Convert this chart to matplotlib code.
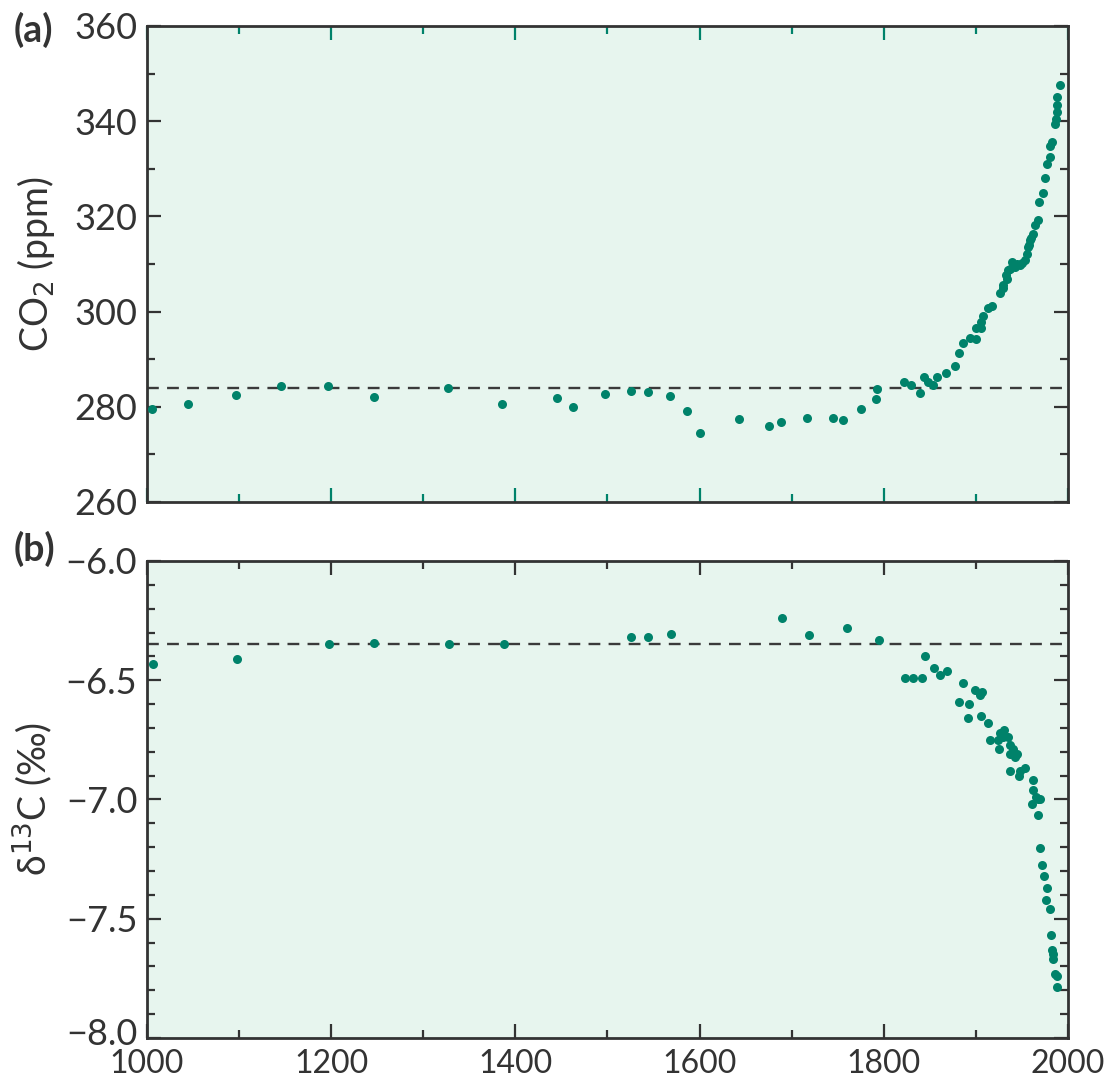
import matplotlib
matplotlib.use("Agg")
import matplotlib.pyplot as plt
import matplotlib.transforms as mtransforms
from matplotlib.ticker import MultipleLocator

plt.rcParams['font.family'] = ['Lato', 'DejaVu Sans']

# panel (a): CO2 from ice cores / atmosphere
co2_years = [1005, 1045, 1097, 1145, 1197, 1246, 1327, 1386, 1445, 1463,
             1497, 1525, 1544, 1568, 1586, 1600, 1643, 1675, 1688, 1717,
             1745, 1756, 1775, 1792, 1793, 1822, 1830, 1839, 1844, 1848,
             1853, 1858, 1868, 1877, 1882, 1886, 1894, 1900, 1900, 1906,
             1906, 1908, 1913, 1917, 1926, 1929, 1929, 1933, 1934, 1935,
             1937, 1939, 1942, 1945, 1948, 1950, 1953, 1955, 1957, 1958,
             1959, 1960, 1962, 1964, 1967, 1969, 1973, 1975, 1977, 1980,
             1981, 1983, 1986, 1987, 1988, 1988, 1988, 1991]
co2_ppm = [279.5, 280.5, 282.4, 284.3, 284.3, 282.0, 283.9, 280.5, 281.9, 280.0,
           282.7, 283.4, 283.2, 282.3, 279.1, 274.5, 277.4, 275.9, 276.7, 277.6,
           277.6, 277.3, 279.5, 281.6, 283.7, 285.2, 284.6, 282.8, 286.2, 285.3,
           284.6, 286.2, 287.2, 288.6, 291.4, 293.5, 294.4, 294.2, 296.5, 296.5,
           297.9, 299.1, 300.7, 301.2, 304.0, 304.9, 305.5, 307.7, 306.8, 308.7,
           309.0, 310.5, 309.4, 310.0, 309.7, 310.2, 310.8, 312.2, 313.6, 314.0,
           315.0, 315.5, 316.4, 318.2, 319.2, 323.1, 324.9, 328.0, 331.1, 332.5,
           334.8, 335.7, 339.5, 340.5, 342.0, 343.4, 345.1, 347.6]

# panel (b): delta 13C
d13c_years = [1006, 1098, 1198, 1246, 1328, 1388, 1526, 1544, 1569, 1690,
              1719, 1760, 1795, 1823, 1832, 1841, 1845, 1854, 1861, 1869,
              1882, 1886, 1891, 1892, 1899, 1905, 1907, 1906, 1913, 1915,
              1924, 1925, 1926, 1929, 1931, 1935, 1937, 1937, 1940, 1942,
              1945, 1937, 1947, 1948, 1953, 1962, 1962, 1965, 1968, 1970,
              1961, 1967, 1970, 1972, 1974, 1977, 1976, 1980, 1982, 1983,
              1984, 1984, 1986, 1988, 1988]
d13c_vals = [-6.43, -6.41, -6.35, -6.345, -6.35, -6.35, -6.32, -6.317, -6.307, -6.24,
             -6.31, -6.28, -6.33, -6.49, -6.49, -6.49, -6.40, -6.45, -6.48, -6.46,
             -6.59, -6.51, -6.66, -6.60, -6.54, -6.56, -6.55, -6.65, -6.68, -6.75,
             -6.75, -6.79, -6.72, -6.74, -6.71, -6.74, -6.77, -6.81, -6.79, -6.82,
             -6.81, -6.88, -6.90, -6.88, -6.87, -6.92, -6.96, -6.99, -7.00, -7.00,
             -7.02, -7.065, -7.205, -7.275, -7.32, -7.37, -7.42, -7.46, -7.57, -7.63,
             -7.65, -7.67, -7.73, -7.74, -7.785]

co2_ref = 284.0
d13c_ref = -6.35
d13c_ticks = [-8.0, -7.5, -7.0, -6.5, -6.0]

dot_color = '#00826a'
bg_color = '#e7f5ee'
spine_color = '#333333'
dash = (0, (5, 3.5))

fig = plt.figure(figsize=(11.12, 10.83), dpi=100)
ax1 = fig.add_axes([0.1322, 0.5365, 0.8282, 0.4395])
ax2 = fig.add_axes([0.1322, 0.0416, 0.8282, 0.4404])

for ax in (ax1, ax2):
    ax.set_facecolor(bg_color)
    ax.set_xlim(1000, 2000)
    ax.xaxis.set_major_locator(MultipleLocator(200))
    ax.xaxis.set_minor_locator(MultipleLocator(100))
    for s in ax.spines.values():
        s.set_linewidth(2.0)
        s.set_color(spine_color)
    ax.tick_params(which='both', direction='in', top=True, right=True,
                   color=spine_color, width=1.6, labelsize=26, labelcolor='#333333')
    ax.tick_params(which='major', length=10, pad=7)
    ax.tick_params(which='minor', length=6)

# (a)
ax1.axhline(co2_ref, color='#3a3a3a', linestyle=dash, linewidth=1.7, zorder=1)
ax1.plot(co2_years, co2_ppm, 'o', color=dot_color, markersize=6.5,
         markeredgewidth=0, clip_on=False, zorder=3)
ax1.set_ylim(260, 360)
ax1.yaxis.set_major_locator(MultipleLocator(20))
ax1.yaxis.set_minor_locator(MultipleLocator(10))
ax1.tick_params(axis='x', which='both', labelbottom=False)
ax1.tick_params(axis='x', which='both', top=True, color=dot_color)
ax1.set_ylabel('CO$_2$ (ppm)', fontsize=27, color='#333333', labelpad=12)
fig.text(0.012, 0.972, '(a)', fontsize=27, fontweight='bold', color='#333333',
         va='center')

# (b)
ax2.axhline(d13c_ref, color='#3a3a3a', linestyle=dash, linewidth=1.7, zorder=1)
ax2.plot(d13c_years, d13c_vals, 'o', color=dot_color, markersize=6.5,
         markeredgewidth=0, clip_on=False, zorder=3)
ax2.set_yticks(d13c_ticks)
ax2.set_yticklabels([('%.1f' % v).replace('-', '\u2212') for v in d13c_ticks])
ax2.yaxis.set_minor_locator(MultipleLocator(0.1))
ax2.set_ylim(-8.0, -6.0)
ax2.tick_params(axis='x', which='major', pad=8, labelsize=23)
ax2.set_ylabel('\u03b4$^{13}$C (\u2030)', fontsize=27, color='#333333', labelpad=8)
fig.text(0.012, 0.493, '(b)', fontsize=27, fontweight='bold', color='#333333',
         va='center')

# lift the lowest y label a touch so it clears the "1000" below it
lowest = ax2.get_yticklabels()[0]
lowest.set_transform(lowest.get_transform() +
                     mtransforms.ScaledTranslation(0, 5 / 72, fig.dpi_scale_trans))

fig.savefig('out.png', dpi=100, facecolor='white')
